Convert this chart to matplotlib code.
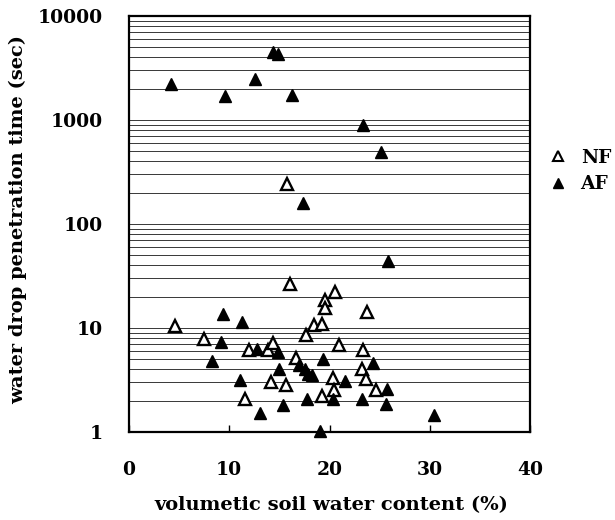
import matplotlib
matplotlib.use("Agg")
import matplotlib.pyplot as plt
from matplotlib.lines import Line2D

# ---- data ----
nf_x = [4.6, 7.5, 11.55, 12.0, 13.9, 14.4, 14.2, 15.7, 15.8, 16.1, 16.7, 17.7,
        18.5, 19.3, 19.6, 19.6, 20.5, 19.3, 20.3, 20.4, 20.9, 23.3, 23.2, 23.6,
        23.7, 24.6]
nf_y = [10.4, 7.9, 2.08, 6.2, 6.1, 7.2, 3.0, 2.8, 240, 26.7, 5.1, 8.6,
        10.7, 10.9, 18.7, 15.6, 22.0, 2.24, 3.3, 2.54, 6.9, 6.2, 4.0, 3.25,
        14.4, 2.54]

af_x = [4.2, 9.6, 12.6, 14.4, 14.9, 16.3, 23.3, 25.1, 17.4, 25.8, 9.4, 11.3,
        9.2, 12.8, 14.85, 8.25, 11.06, 14.95, 17.0, 17.6, 17.9, 18.3, 19.4,
        21.5, 24.3, 25.7, 20.3, 17.8, 23.2, 15.4, 25.6, 13.1, 30.4, 19.1]
af_y = [2200, 1700, 2500, 4500, 4300, 1750, 890, 490, 160, 44.5, 13.7, 11.3,
        7.4, 6.3, 5.9, 4.8, 3.17, 4.0, 4.4, 4.05, 3.6, 3.5, 5.0,
        3.1, 4.6, 2.58, 2.08, 2.07, 2.07, 1.82, 1.85, 1.51, 1.46, 1.03]

x_ticks = [0, 10, 20, 30, 40]
y_ticks = [1, 10, 100, 1000, 10000]
y_ticklabels = ["1", "10", "100", "1000", "10000"]
series_labels = ["NF", "AF"]

plt.rcParams['font.family'] = ['DejaVu Serif', 'Liberation Serif']
plt.rcParams['font.weight'] = 'bold'

fig = plt.figure(figsize=(6.15, 5.2), dpi=100)
W, H = 615, 520
left, right, top, bottom = 129, 530, 16, 432
ax = fig.add_axes([left / W, 1 - bottom / H, (right - left) / W, (bottom - top) / H])

ax.set_yscale('log')
ax.set_xlim(0, 40)
ax.set_ylim(1, 10000)

ax.yaxis.grid(True, which='both', color='#2a2a2a', linewidth=0.65)
ax.xaxis.grid(False)
ax.set_axisbelow(True)

ax.plot(nf_x, nf_y, linestyle='none', marker='^', markersize=8,
        markerfacecolor='white', markeredgecolor='black', markeredgewidth=1.7,
        clip_on=False, zorder=3)
ax.plot(af_x, af_y, linestyle='none', marker='^', markersize=9,
        markerfacecolor='black', markeredgecolor='black', markeredgewidth=1.0,
        clip_on=False, zorder=3)

for s in ax.spines.values():
    s.set_linewidth(1.6)
    s.set_color('black')

fs = 13.5
ax.set_xticks(x_ticks)
ax.set_xticklabels([str(v) for v in x_ticks], fontsize=fs, fontweight='bold')
ax.set_yticks(y_ticks)
ax.set_yticklabels(y_ticklabels, fontsize=fs, fontweight='bold')
ax.yaxis.set_minor_formatter(plt.NullFormatter())
ax.tick_params(axis='y', which='both', length=0, pad=19)
ax.tick_params(axis='x', which='major', direction='in', length=5, width=1.0, pad=21)
ax.tick_params(axis='x', which='minor', length=0)

fig.text(331 / W, 1 - 505 / H, "volumetic soil water content (%)",
         ha='center', va='center', fontsize=14, fontweight='bold')
fig.text(18 / W, 1 - 220 / H, "water drop penetration time (sec)", rotation=90,
         ha='center', va='center', fontsize=14, fontweight='bold')

# legend outside to the right
handles = [
    Line2D([], [], linestyle='none', marker='^', markersize=7,
           markerfacecolor='white', markeredgecolor='black', markeredgewidth=1.5),
    Line2D([], [], linestyle='none', marker='^', markersize=7,
           markerfacecolor='black', markeredgecolor='black'),
]
fig.legend(handles, series_labels, loc='upper left',
           bbox_to_anchor=(530 / W, 1 - 132 / H), frameon=False,
           prop={'size': fs, 'weight': 'bold'}, handlelength=1.2,
           handletextpad=0.6, labelspacing=0.45)

fig.savefig("out.png", dpi=100)
